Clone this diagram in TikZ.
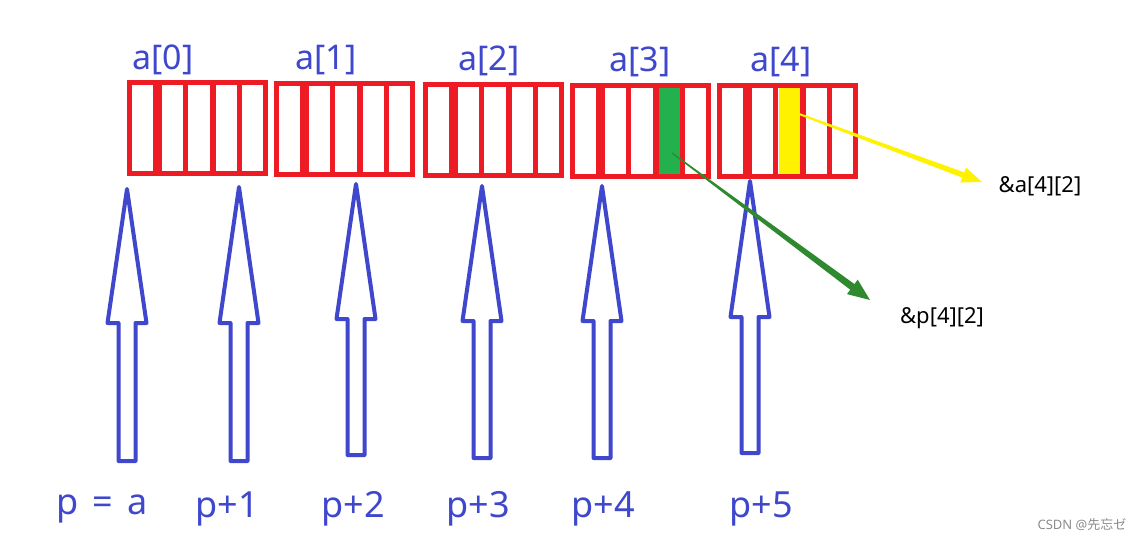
\documentclass[tikz,border=0pt]{standalone}
\usepackage{fontspec}
\setmainfont{Noto Sans}
\newfontfamily\cjkfont{Noto Sans CJK SC}
\usetikzlibrary{calc}
\definecolor{pblue}{HTML}{3F48CC}
\definecolor{pred}{HTML}{ED1C24}
\definecolor{pgreen}{HTML}{22B14C}
\definecolor{pyellow}{HTML}{FFF200}
\definecolor{dgreen}{HTML}{2F8A2F}
\tikzset{
  hollow/.style={draw=pblue, line width=4pt, line join=round, fill=white},
  boxlbl/.style={text=pblue, font=\fontsize{34}{40}\selectfont, inner sep=0pt},
  ptrlbl/.style={text=pblue, font=\fontsize{36}{42}\selectfont, inner sep=0pt},
  addrlbl/.style={text=black, font=\fontsize{22}{26}\selectfont, inner sep=0pt},
  arrbox/.style={fill=pred, draw=none, inner sep=0pt, minimum width=141pt, minimum height=96pt, anchor=north west},
}
% #1 name, #2 left x, #3 top y
\newcommand\rowbox[3]{%
  \node[arrbox] (#1) at (#2,#3) {};
  \foreach \ca/\cb in {5/26,35/56,61/83,89/110,115/136}{
    \fill[white] ($(#1.north west)+(\ca,5)$) rectangle ($(#1.north west)+(\cb,91)$);
  }
}
% #1 name, #2 x, #3 tip y, #4 head base y, #5 bottom y
\newcommand\harrow[5]{%
  \coordinate (#1) at (#2,#3);
  \draw[hollow] (#1) -- ++(19.5,#4-#3) -- ++(-11,0) -- (#2+8.5,#5) -- (#2-8.5,#5)
     -- (#2-8.5,#4) -- (#2-19.5,#4) -- cycle;
}
% #1 colour, #2 start, #3 tip, #4 start half width, #5 shaft end half width, #6 head half width, #7 head length
\newcommand\taper[7]{%
  \coordinate (E) at ($(#3)!#7!(#2)$);
  \fill[#1] ($(#2)!#4!90:(#3)$) -- ($(E)!#5!90:(#3)$) -- ($(E)!#6!90:(#3)$) -- (#3)
    -- ($(E)!#6!-90:(#3)$) -- ($(E)!#5!-90:(#3)$) -- ($(#2)!#4!-90:(#3)$) -- cycle;
}
\begin{document}
\begin{tikzpicture}[x=1pt,y=-1pt]
\useasboundingbox (0,0) rectangle (1141,540);
\fill[white] (0,0) rectangle (1141,540);

% array rows
\rowbox{b0}{127}{80}
\rowbox{b1}{274}{81}
\rowbox{b2}{423}{82}
\rowbox{b3}{570}{83}
\rowbox{b4}{717}{83}
\fill[pgreen] ($(b3.north west)+(89,5)$) rectangle ($(b3.north west)+(110,91)$);
\fill[pyellow] ($(b4.north west)+(62,5)$) rectangle ($(b4.north west)+(83,91)$);

% row labels
\node[boxlbl] (l0) at (163,60) {a[0]};
\node[boxlbl] (l1) at (326,60) {a[1]};
\node[boxlbl] (l2) at (489,61) {a[2]};
\node[boxlbl] (l3) at (640,62) {a[3]};
\node[boxlbl] (l4) at (781,62) {a[4]};

% pointer arrows
\harrow{t0}{127}{189}{323}{461}
\harrow{t1}{239}{187}{323}{461}
\harrow{t2}{356}{184}{319}{455}
\harrow{t3}{482}{186}{321}{458}
\harrow{t4}{602}{186}{321}{458}
\harrow{t5}{750}{181}{317}{453}

% pointer labels
\node[ptrlbl] (p0) at (102,509) {p\hspace{0.4em}=\hspace{0.4em}a};
\node[ptrlbl] (p1) at (227,509) {p+1};
\node[ptrlbl] (p2) at (353,509) {p+2};
\node[ptrlbl] (p3) at (478,509) {p+3};
\node[ptrlbl] (p4) at (603,509) {p+4};
\node[ptrlbl] (p5) at (761,509) {p+5};

% address arrows
\coordinate (ys) at (783,108);
\coordinate (yt) at (982,182);
\taper{pyellow}{ys}{yt}{0.8pt}{2.8pt}{8pt}{20pt}
\coordinate (gs) at (672,153);
\coordinate (gt) at (870,300);
\taper{dgreen}{gs}{gt}{0.6pt}{3.5pt}{9pt}{22pt}

\node[addrlbl] (aa) at (1040,186) {\&a[4][2]};
\node[addrlbl] (pa) at (942,318) {\&p[4][2]};

\node[text=black!45, font=\fontsize{13}{15}\selectfont, inner sep=0pt] (wm) at (1082,525) {CSDN @{\cjkfont 先忘ゼ}};
\end{tikzpicture}
\end{document}
